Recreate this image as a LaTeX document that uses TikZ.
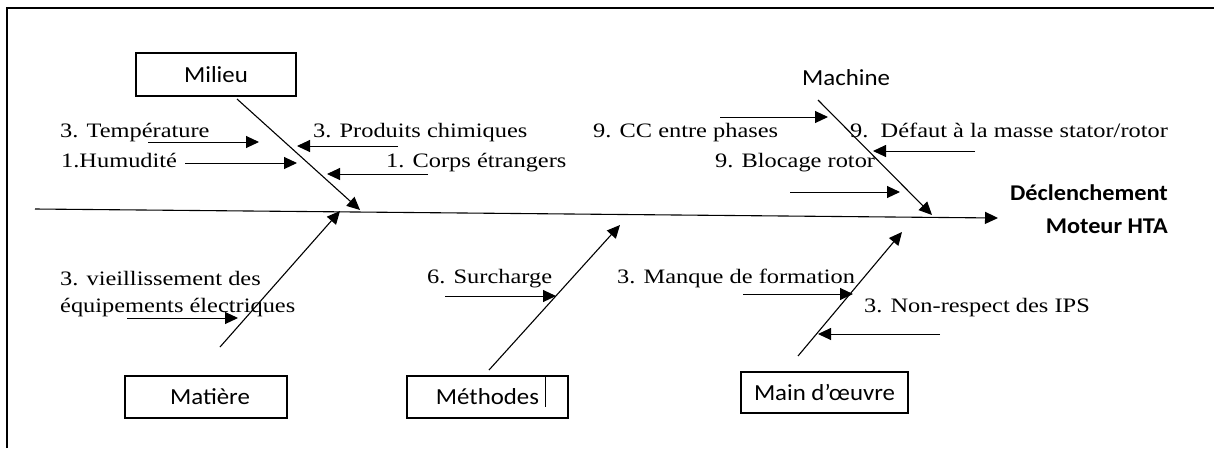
\documentclass[tikz,border=0pt]{standalone}
\usepackage{fontspec}
\setmainfont{Liberation Serif}[FakeStretch=1.19]
\setsansfont{Carlito}[FakeStretch=1.08]
\usetikzlibrary{arrows.meta, positioning}

\begin{document}
\begin{tikzpicture}[
    x=1pt, y=-1pt,
    catbox/.style={rectangle, draw, line width=2pt, inner sep=0pt, font=\sffamily\fontsize{23}{25}\selectfont},
    cattext/.style={anchor=base west, inner sep=0pt, font=\sffamily\fontsize{23}{25}\selectfont},
    causetext/.style={anchor=base west, inner sep=0pt, font=\fontsize{20.5}{22}\selectfont},
    effecttext/.style={anchor=base east, inner sep=0pt, font=\sffamily\bfseries\fontsize{22.5}{24}\selectfont},
    bone/.style={-{Triangle[length=13pt, width=12pt]}, line width=1.1pt},
    cause/.style={-{Triangle[length=13pt, width=12pt]}, line width=1pt}
]
    \useasboundingbox (0,0) rectangle (1214,448);
    \draw[line width=2.2pt] (7,448) -- (7,8) -- (1214,8);

    % spine and effect
    \coordinate (tail) at (35,209);
    \coordinate (head) at (998,218);
    \draw[bone] (tail) -- (head);
    \node[effecttext] (effect) at (1168,200) {Déclenchement};
    \node[effecttext] (effect2) at (1168,233) {Moteur HTA};

    % categories
    \node[catbox, minimum width=160pt, minimum height=43pt] (milieu) at (216,74.5) {Milieu};
    \node[cattext] (machine) at (802,85) {Machine};
    \node[catbox, minimum width=162pt, minimum height=42pt] (matiere) at (206,397) {\hspace{8pt}Matière};
    \node[catbox, minimum width=161pt, minimum height=42pt] (methodes) at (487.5,397) {Méthodes\hspace{16pt}};
    \node[catbox, minimum width=167pt, minimum height=41pt] (maindoeuvre) at (824.5,392.5) {Main d’œuvre};
    \draw[line width=0.8pt] (545,377) -- (545,407);

    % bones
    \coordinate (milS) at (237,99);     \coordinate (milE) at (360,210);
    \coordinate (macS) at (818,100);    \coordinate (macE) at (932,215);
    \coordinate (matS) at (220,347);    \coordinate (matE) at (340,211);
    \coordinate (metS) at (489,370);    \coordinate (metE) at (620,225);
    \coordinate (mdoS) at (798,356);    \coordinate (mdoE) at (902,232);
    \draw[bone] (milS) -- (milE);
    \draw[bone] (macS) -- (macE);
    \draw[bone] (matS) -- (matE);
    \draw[bone] (metS) -- (metE);
    \draw[bone] (mdoS) -- (mdoE);

    % causes: Milieu
    \node[causetext] (temp) at (60,137) {3. Température};
    \node[causetext] (humid) at (61,167) {1.Humudité};
    \node[causetext] (chim) at (313,137) {3. Produits chimiques};
    \node[causetext] (corps) at (386,167) {1. Corps étrangers};
    \coordinate (tempS) at (148,142);  \coordinate (tempE) at (259,142);
    \coordinate (humidS) at (185,163); \coordinate (humidE) at (297,163);
    \coordinate (chimS) at (398,146);  \coordinate (chimE) at (297,146);
    \coordinate (corpsS) at (428,174); \coordinate (corpsE) at (327,174);
    \draw[cause] (tempS) -- (tempE);
    \draw[cause] (humidS) -- (humidE);
    \draw[cause] (chimS) -- (chimE);
    \draw[cause] (corpsS) -- (corpsE);

    % causes: Machine
    \node[causetext] (cc) at (593,137) {9. CC entre phases};
    \node[causetext] (defaut) at (850,137) {9.\ \ Défaut à la masse stator/rotor};
    \node[causetext] (blocage) at (715,167) {9. Blocage rotor};
    \coordinate (ccS) at (720,117);     \coordinate (ccE) at (828,117);
    \coordinate (defautS) at (975,151); \coordinate (defautE) at (873,151);
    \coordinate (blocS) at (790,192);   \coordinate (blocE) at (900,192);
    \draw[cause] (ccS) -- (ccE);
    \draw[cause] (defautS) -- (defautE);
    \draw[cause] (blocS) -- (blocE);

    % causes: Matiere
    \node[causetext] (vieil) at (60,285) {3. vieillissement des};
    \node[causetext] (vieil2) at (60,312) {équipements électriques};
    \coordinate (vieilS) at (127,318); \coordinate (vieilE) at (238,318);
    \draw[cause] (vieilS) -- (vieilE);

    % causes: Methodes
    \node[causetext] (surch) at (427,283) {6. Surcharge};
    \coordinate (surchS) at (445,296); \coordinate (surchE) at (556,296);
    \draw[cause] (surchS) -- (surchE);

    % causes: Main d'oeuvre
    \node[causetext] (formation) at (617,283) {3. Manque de formation};
    \node[causetext] (ips) at (864,312) {3. Non-respect des IPS};
    \coordinate (formS) at (743,294); \coordinate (formE) at (853,294);
    \coordinate (ipsS) at (940,334);  \coordinate (ipsE) at (818,334);
    \draw[cause] (formS) -- (formE);
    \draw[cause] (ipsS) -- (ipsE);
\end{tikzpicture}
\end{document}
